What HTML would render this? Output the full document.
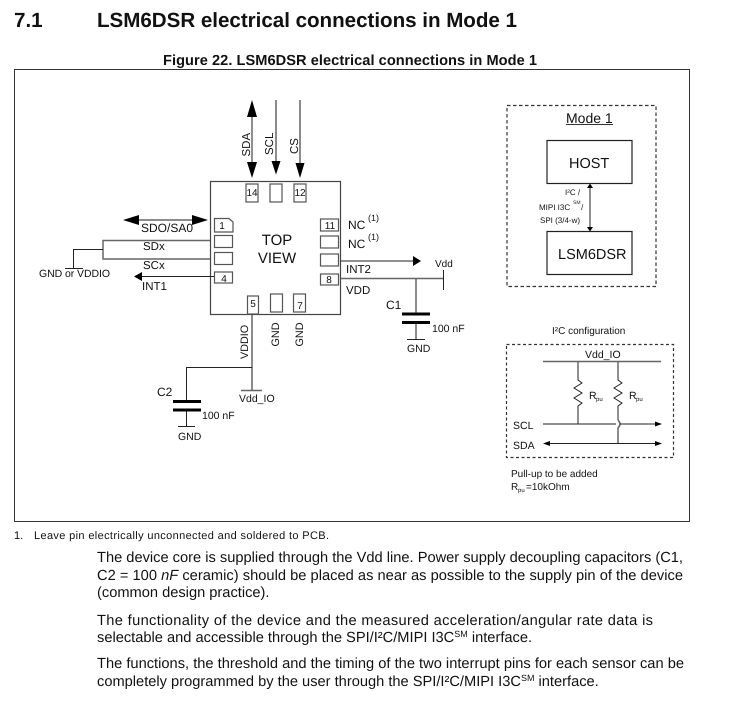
<!DOCTYPE html>
<html><head><meta charset="utf-8"><style>
html,body{margin:0;padding:0;background:#fff;width:733px;height:703px;overflow:hidden}
svg{display:block;font-family:"Liberation Sans",sans-serif;text-rendering:geometricPrecision}
text{fill:#111}
.l{stroke:#222;stroke-width:1;fill:none}
.g{stroke:#666;stroke-width:1.5;fill:none}
.p{stroke:#555;stroke-width:1.2;fill:#fff}
.n{font-size:10px;text-anchor:middle}
.b{font-size:14.65px}
</style></head><body>
<svg width="733" height="703" viewBox="0 0 733 703">
<text x="14" y="27" font-size="20.6" font-weight="bold">7.1</text>
<text x="97" y="27" font-size="20.6" font-weight="bold" textLength="420">LSM6DSR electrical connections in Mode 1</text>
<text x="163" y="65" font-size="14.600" font-weight="bold" textLength="374">Figure 22. LSM6DSR electrical connections in Mode 1</text>
<rect x="14.5" y="69.5" width="675" height="452" fill="none" stroke="#333" stroke-width="1"/>

<!-- chip -->
<rect x="210.5" y="181.5" width="130" height="133" fill="none" stroke="#444" stroke-width="1.2"/>
<rect class="p" x="246" y="184" width="12" height="18"/><rect class="p" x="270" y="184" width="12" height="18"/><rect class="p" x="294" y="184" width="12" height="18"/>
<text class="n" x="252" y="196">14</text><text class="n" x="300" y="196">12</text>
<path class="p" d="M214.5 218.5H229L233 222V232H214.5Z"/><rect class="p" x="214.5" y="235.5" width="18" height="12"/><rect class="p" x="214.5" y="252.5" width="18" height="12"/><rect class="p" x="214.5" y="272" width="18" height="11"/>
<text class="n" x="222" y="229">1</text><text class="n" x="224" y="282">4</text>
<rect class="p" x="320.5" y="219" width="18" height="12"/><rect class="p" x="320.5" y="236" width="18" height="12"/><rect class="p" x="320.5" y="254" width="18" height="12"/><rect class="p" x="320.5" y="274" width="18" height="11"/>
<text class="n" x="330" y="229">11</text><text class="n" x="329" y="283">8</text>
<rect class="p" x="247.5" y="296" width="11" height="18"/><rect class="p" x="270.5" y="294" width="12" height="18"/><rect class="p" x="293.5" y="294" width="12" height="18"/>
<text class="n" x="253" y="307">5</text><text class="n" x="300" y="309">7</text>
<text x="277" y="245" font-size="15" text-anchor="middle">TOP</text>
<text x="277" y="263" font-size="15" text-anchor="middle">VIEW</text>

<!-- top signals -->
<path class="l" d="M252 115V165"/>
<path class="g" d="M276 100V163M300 100V165"/>
<path d="M252 100L247 117H257ZM252 178L247 162H257ZM276 174.500L271.500 161H280.500ZM300 178L295.500 163H304.500Z" fill="#000"/>
<g font-size="11.5">
<text transform="translate(250,156.500) rotate(-90)">SDA</text>
<text transform="translate(273,155) rotate(-90)">SCL</text>
<text transform="translate(298,154) rotate(-90)">CS</text>
<text transform="translate(248,359) rotate(-90)" font-size="10.800">VDDIO</text>
<text transform="translate(279,346.500) rotate(-90)" font-size="10.800">GND</text>
<text transform="translate(303,346.500) rotate(-90)" font-size="10.800">GND</text>
</g>

<!-- left signals -->
<path class="g" d="M137 220H194"/>
<path d="M123 220L139 215V225ZM208 220L192 215V225Z" fill="#000"/>
<text x="141" y="232" font-size="12">SDO/SA0</text>
<path class="g" d="M210 240.5H103V259H210"/>
<path class="l" d="M103 249.5H73.5V268M65 268.5H83M140 276.5H214"/>
<path d="M134 276.5L142 272V281Z" fill="#000"/>
<text x="143" y="250" font-size="11.5">SDx</text>
<text x="143" y="269" font-size="11.5">SCx</text>
<text x="142" y="290" font-size="11.5">INT1</text>
<text x="39" y="277" font-size="10.500" textLength="71">GND or VDDIO</text>

<!-- right signals -->
<text x="348" y="229" font-size="12">NC</text><text x="368" y="221" font-size="9">(1)</text>
<text x="348" y="248" font-size="12">NC</text><text x="368" y="240" font-size="9">(1)</text>
<path class="l" d="M341 261H414"/><path d="M421 261L413 256V266Z" fill="#000"/>
<text x="346" y="273" font-size="11.500">INT2</text>
<text x="346" y="294" font-size="11.500">VDD</text>
<text x="435" y="267" font-size="10">Vdd</text>
<path class="g" stroke-width="1" d="M341 278.5H443"/>
<path class="l" d="M443.500 270V290"/>
<path class="g" d="M416 278V314M416 323V339"/>
<path d="M402 312.500H430V315.500H402ZM402 321H430V324H402Z" fill="#000"/>
<path class="l" d="M407 339.500H425"/>
<text x="386" y="309" font-size="12">C1</text>
<text x="432" y="332" font-size="10.500">100 nF</text>
<text x="407" y="352" font-size="10.500">GND</text>

<!-- bottom -->
<path class="g" d="M252 315V390" stroke-width="1"/>
<path class="l" d="M186 367.500H252M186.500 367V400M186.500 411V426"/>
<path class="g" d="M241 390.500H262"/>
<path d="M173 400H201V403H173ZM173 408.500H201V411.500H173Z" fill="#000"/>
<path class="l" d="M178 426.500H195"/>
<text x="157" y="396" font-size="12">C2</text>
<text x="239" y="402" font-size="10.500">Vdd_IO</text>
<text x="202" y="419" font-size="10.500">100 nF</text>
<text x="178" y="440" font-size="10.500">GND</text>

<!-- Mode box -->
<rect x="507" y="105.500" width="149" height="181" fill="none" stroke="#333" stroke-width="1.200" stroke-dasharray="3.500 2.500"/>
<text x="566" y="123" font-size="14">Mode 1</text>
<path d="M566 124.500H613" stroke="#333" stroke-width="1"/>
<rect x="547" y="140.500" width="85" height="43" fill="none" stroke="#222" stroke-width="1.200"/>
<rect x="547" y="231.500" width="85" height="43" fill="none" stroke="#222" stroke-width="1.200"/>
<text x="569" y="168" font-size="14.500">HOST</text>
<text x="558" y="259" font-size="14.500">LSM6DSR</text>
<path class="l" d="M590 187V228"/>
<path d="M590 183.500L587 188H593ZM590 231.500L587 227H593Z" fill="#000"/>
<g font-size="8">
<text x="565" y="195">I²C /</text>
<text x="539" y="210">MIPI I3C</text><text x="573" y="204" font-size="5">SM</text><text x="581" y="210">/</text>
<text x="540" y="223">SPI (3/4-w)</text>
</g>

<!-- I2C config -->
<text x="552" y="334" font-size="10">I²C configuration</text>
<rect x="506.500" y="344.500" width="167" height="113" fill="none" stroke="#333" stroke-width="1.200" stroke-dasharray="3 2.500"/>
<text x="585" y="358" font-size="10.500">Vdd_IO</text>
<path class="g" stroke-width="1.200" d="M543 361.500H661"/>
<path class="l" d="M578 362V380L582 383L574 388L582 393L574 398L582 403L578 406V424M618 362V380L622 383L614 388L622 393L614 398L622 403L618 406V420"/>
<path class="g" stroke-width="1.300" d="M618 420Q622 424 618 428V443"/>
<path class="l" d="M543 424H616M620 424H656M548 443.500H656"/>
<path d="M662 424L655 421.500V426.500ZM662 443.500L655 441V446ZM543 443.500L550 441V446Z" fill="#000"/>
<text x="589" y="399" font-size="10.500">R</text><text x="596" y="401" font-size="6">pu</text>
<text x="629" y="399" font-size="10.500">R</text><text x="636" y="401" font-size="6">pu</text>
<text x="513" y="429" font-size="10.500">SCL</text>
<text x="513" y="449" font-size="10.500">SDA</text>
<text x="511" y="477" font-size="10">Pull-up to be added</text>
<text x="511" y="490" font-size="10">R</text><text x="518" y="492" font-size="6">pu</text><text x="526" y="490" font-size="10">=10kOhm</text>

<!-- text -->
<text x="14" y="539" font-size="11">1.</text>
<text x="34" y="539" font-size="11" textLength="295">Leave pin electrically unconnected and soldered to PCB.</text>
<g class="b">
<text x="97" y="562" textLength="586">The device core is supplied through the Vdd line. Power supply decoupling capacitors (C1,</text>
<text x="97" y="580" textLength="586">C2 = 100 <tspan font-style="italic">nF</tspan> ceramic) should be placed as near as possible to the supply pin of the device</text>
<text x="97" y="597">(common design practice).</text>
<text x="97" y="625" textLength="556">The functionality of the device and the measured acceleration/angular rate data is</text>
<text x="97" y="642">selectable and accessible through the SPI/I²C/MIPI I3C<tspan font-size="9" dy="-5">SM</tspan><tspan dy="5"> interface.</tspan></text>
<text x="97" y="668" textLength="587">The functions, the threshold and the timing of the two interrupt pins for each sensor can be</text>
<text x="97" y="686">completely programmed by the user through the SPI/I²C/MIPI I3C<tspan font-size="9" dy="-5">SM</tspan><tspan dy="5"> interface.</tspan></text>
</g>
</svg>
</body></html>
